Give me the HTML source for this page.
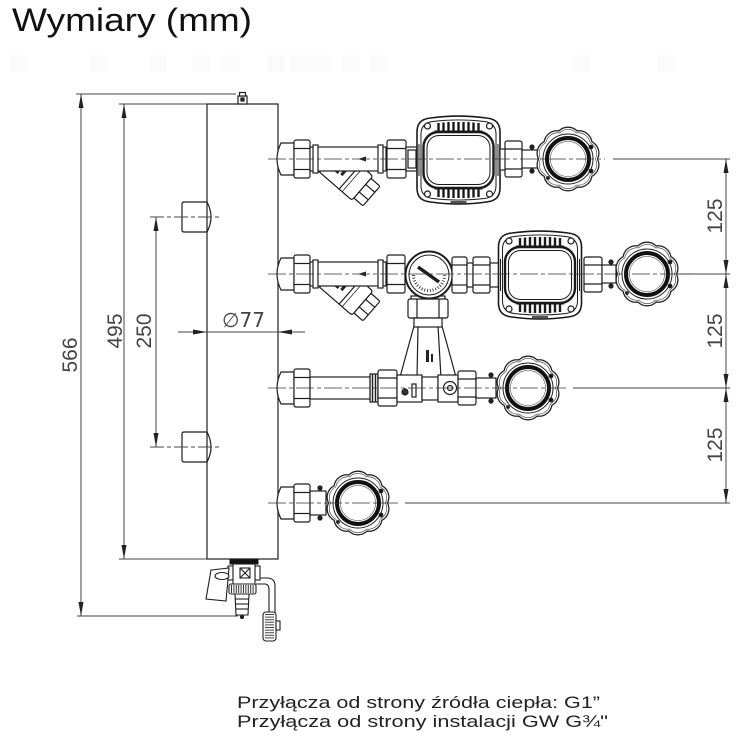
<!DOCTYPE html>
<html><head><meta charset="utf-8">
<style>html,body{margin:0;padding:0;background:#fff;}svg{display:block;}</style>
</head>
<body>
<svg xmlns="http://www.w3.org/2000/svg" xmlns:xlink="http://www.w3.org/1999/xlink" width="750" height="749" viewBox="0 0 750 749">
<defs>
  <g id="knob">
    <path d="M29.5,0 A13,13 0 0 1 23.87,17.34 A13,13 0 0 1 9.12,28.06 A13,13 0 0 1 -9.12,28.06 A13,13 0 0 1 -23.87,17.34 A13,13 0 0 1 -29.5,0 A13,13 0 0 1 -23.87,-17.34 A13,13 0 0 1 -9.12,-28.06 A13,13 0 0 1 9.12,-28.06 A13,13 0 0 1 23.87,-17.34 A13,13 0 0 1 29.5,0 Z" fill="#fff" stroke="#222" stroke-width="1.3"/>
    <path transform="scale(0.93)" d="M29.5,0 A13,13 0 0 1 23.87,17.34 A13,13 0 0 1 9.12,28.06 A13,13 0 0 1 -9.12,28.06 A13,13 0 0 1 -23.87,17.34 A13,13 0 0 1 -29.5,0 A13,13 0 0 1 -23.87,-17.34 A13,13 0 0 1 -9.12,-28.06 A13,13 0 0 1 9.12,-28.06 A13,13 0 0 1 23.87,-17.34 A13,13 0 0 1 29.5,0 Z" fill="none" stroke="#444" stroke-width="0.7"/>
    <circle r="25" fill="none" stroke="#222" stroke-width="1"/>
    <circle r="21" fill="#fff" stroke="#111" stroke-width="4"/>
    <circle r="17.6" fill="none" stroke="#555" stroke-width="0.6"/>
    <circle cx="23" cy="-12" r="1.8" fill="#111"/>
    <circle cx="23" cy="12" r="1.8" fill="#111"/>
    <circle cx="-20" cy="19" r="1.3" fill="#333"/>
  </g>
  <g id="pump" stroke="#1a1a1a" fill="#fff">
    <path d="M-28,-42 C-10,-44.5 10,-44.5 28,-42 C38,-41 42,-36 41.5,-26 L41.5,26 C42,36 38,41 28,42 C10,44.5 -10,44.5 -28,42 C-38,41 -42,36 -41.5,26 L-41.5,-26 C-42,-36 -38,-41 -28,-42 Z" stroke-width="1.6"/>
    <path d="M-26,-38.5 C-10,-40.5 10,-40.5 26,-38.5 C34,-37.5 38,-33 37.5,-24 L37.5,24 C38,33 34,37.5 26,38.5 C10,40.5 -10,40.5 -26,38.5 C-34,37.5 -38,33 -37.5,24 L-37.5,-24 C-38,-33 -34,-37.5 -26,-38.5 Z" stroke-width="1"/>
    <path d="M-20,-37 V-29 M-15,-37.5 V-29 M-10,-38 V-29 M-5,-38 V-29 M0,-38 V-29 M5,-38 V-29 M10,-38 V-29 M15,-37.5 V-29 M20,-37 V-29" stroke-width="2.4" fill="none"/>
    <path d="M-20,37 V29 M-15,37.5 V29 M-10,38 V29 M-5,38 V29 M0,38 V29 M5,38 V29 M10,38 V29 M15,37.5 V29 M20,37 V29" stroke-width="2.4" fill="none"/>
    <line x1="-24" y1="-29" x2="24" y2="-29" stroke-width="1"/>
    <line x1="-24" y1="29" x2="24" y2="29" stroke-width="1"/>
    <rect x="-35" y="-28" width="70" height="56" rx="15" stroke-width="2.4"/>
    <rect x="-31.5" y="-24.5" width="63" height="49" rx="12" stroke-width="1"/>
    <circle cx="-31" cy="-34" r="3" stroke-width="1.2"/>
    <circle cx="31" cy="-34" r="3" stroke-width="1.2"/>
    <circle cx="-31" cy="34" r="3" stroke-width="1.2"/>
    <circle cx="31" cy="34" r="3" stroke-width="1.2"/>
    <line x1="-39.5" y1="-16" x2="-39.5" y2="16" stroke-width="1"/>
    <line x1="39.5" y1="-16" x2="39.5" y2="16" stroke-width="1"/>
    <line x1="-8" y1="42" x2="8" y2="42" stroke-width="1.5"/>
  </g>
  <g id="strainer" stroke="#1a1a1a" fill="#fff" stroke-width="1.2">
    <path d="M0,-16 L40,-16 Q43,-16 43,-13 L43,13 Q43,16 40,16 L0,16 Z"/>
    <line x1="26" y1="-16" x2="26" y2="16"/>
    <line x1="30" y1="-16" x2="30" y2="16" stroke-width="0.7"/>
    <rect x="43" y="-13" width="12" height="26" rx="1.5"/>
    <line x1="43" y1="-5" x2="55" y2="-5"/>
    <line x1="43" y1="5" x2="55" y2="5"/>
    <g fill="#222" stroke="none">
      <rect x="8" y="-7" width="7" height="2.5"/>
      <rect x="8" y="-2" width="7" height="2.5"/>
      <rect x="8" y="3" width="7" height="2.5"/>
      <rect x="17" y="-4" width="3" height="8"/>
    </g>
  </g>
</defs>

<!-- faint artifacts -->
<g fill="#fbfbfb">
  <rect x="10" y="55" width="17" height="17"/>
  <rect x="90" y="55" width="17" height="17"/>
  <rect x="150" y="55" width="17" height="17"/>
  <rect x="192" y="55" width="18" height="17"/>
  <rect x="220" y="55" width="20" height="17"/>
  <rect x="267" y="55" width="18" height="17"/>
  <rect x="290" y="55" width="42" height="17"/>
  <rect x="342" y="55" width="18" height="17"/>
  <rect x="370" y="55" width="17" height="17"/>
  <rect x="572" y="55" width="18" height="17"/>
  <rect x="657" y="55" width="18" height="17"/>
</g>

<!-- Title -->
<text x="12" y="31" font-family="Liberation Sans, sans-serif" font-size="32" fill="#111" textLength="240" lengthAdjust="spacingAndGlyphs">Wymiary (mm)</text>

<!-- Tank body -->
<g stroke="#1e1e1e" stroke-width="1.2" fill="#fff">
  <rect x="207" y="104" width="71" height="455"/>
  <rect x="238" y="96" width="9" height="8"/>
  <rect x="239.5" y="92.5" width="6" height="3.5"/>
  <rect x="241" y="98" width="3" height="3" fill="#222"/>
  <path d="M207,202 L184,202 Q182,202 182,204 L182,230 Q182,232 184,232 L207,232 Q215,217 207,202 Z"/>
  <path d="M207,432 L184,432 Q182,432 182,434 L182,460 Q182,462 184,462 L207,462 Q215,447 207,432 Z"/>
  <line x1="207" y1="202" x2="207" y2="232"/>
  <line x1="207" y1="432" x2="207" y2="462"/>
</g>

<!-- Dimension lines -->
<g stroke="#444" stroke-width="1" fill="none">
  <line x1="76" y1="94" x2="236" y2="94"/>
  <line x1="77" y1="616" x2="238" y2="616"/>
  <line x1="81" y1="94" x2="81" y2="616"/>
  <line x1="119" y1="104" x2="207" y2="104"/>
  <line x1="119" y1="559" x2="207" y2="559"/>
  <line x1="124" y1="104" x2="124" y2="559"/>
  <line x1="156" y1="217" x2="156" y2="447"/>
  <line x1="150" y1="217" x2="222" y2="217" stroke-dasharray="14 3 4 3"/>
  <line x1="150" y1="447" x2="222" y2="447" stroke-dasharray="14 3 4 3"/>
  <line x1="178" y1="332" x2="305" y2="332"/>
  <line x1="726" y1="159" x2="726" y2="503"/>
  <line x1="613" y1="159" x2="730" y2="159"/>
  <line x1="612" y1="274" x2="730" y2="274"/>
  <line x1="573" y1="388" x2="730" y2="388"/>
  <line x1="405" y1="503" x2="730" y2="503"/>
</g>
<g fill="#222">
  <polygon points="81,94 78.5,108 83.5,108"/>
  <polygon points="81,616 78.5,602 83.5,602"/>
  <polygon points="124,104 121.5,118 126.5,118"/>
  <polygon points="124,559 121.5,545 126.5,545"/>
  <polygon points="156,217 153.5,231 158.5,231"/>
  <polygon points="156,447 153.5,433 158.5,433"/>
  <polygon points="207,332 193,329.5 193,334.5"/>
  <polygon points="278,332 292,329.5 292,334.5"/>
  <polygon points="726,159 723.5,173 728.5,173"/>
  <polygon points="726,274 723.5,260 728.5,260"/>
  <polygon points="726,274 723.5,288 728.5,288"/>
  <polygon points="726,388 723.5,374 728.5,374"/>
  <polygon points="726,388 723.5,402 728.5,402"/>
  <polygon points="726,503 723.5,489 728.5,489"/>
</g>
<g font-family="Liberation Sans, sans-serif" font-size="21" fill="#444" text-anchor="middle">
  <text transform="translate(77,355) rotate(-90)">566</text>
  <text transform="translate(122,331) rotate(-90)">495</text>
  <text transform="translate(151,331) rotate(-90)">250</text>
  <text transform="translate(722,216) rotate(-90)">125</text>
  <text transform="translate(722,331) rotate(-90)">125</text>
  <text transform="translate(722,445) rotate(-90)">125</text>
</g>
<text x="222" y="327" font-family="DejaVu Sans, Liberation Sans, sans-serif" font-size="20" fill="#444" textLength="43" lengthAdjust="spacingAndGlyphs">∅77</text>

<!-- Row 1 -->
<g stroke="#1e1e1e" stroke-width="1.2" fill="#fff">
  <use xlink:href="#strainer" transform="translate(330,160) rotate(41)"/>
  <path d="M294,143 L281,143 Q273,159 281,175 L294,175 Z"/>
  <rect x="294" y="140" width="16" height="38" rx="2"/>
  <line x1="294" y1="148.5" x2="310" y2="148.5"/><line x1="294" y1="169.5" x2="310" y2="169.5"/>
  <rect x="310" y="147" width="76" height="24"/>
  <rect x="313" y="145" width="5" height="28"/>
  <rect x="378" y="145" width="5" height="28"/>
  <polygon points="358,159 366,156.5 366,161.5" fill="#222" stroke="none"/>
  <rect x="387" y="140" width="19" height="38" rx="2"/>
  <line x1="387" y1="148.5" x2="406" y2="148.5"/><line x1="387" y1="169.5" x2="406" y2="169.5"/>
  <rect x="406" y="147" width="12" height="24"/>
  <rect x="408" y="150" width="8" height="18"/>
  <use xlink:href="#pump" transform="translate(458.5,160)"/>
  <rect x="500" y="149" width="6" height="21"/>
  <rect x="505" y="141" width="17" height="36" rx="2"/>
  <line x1="505" y1="149" x2="522" y2="149"/><line x1="505" y1="169" x2="522" y2="169"/>
  <rect x="522" y="150" width="16" height="18"/>
  <use xlink:href="#knob" transform="translate(568,159)"/>
  <circle cx="532" cy="147" r="2" fill="#222"/>
  <circle cx="532" cy="171" r="2" fill="#222"/>
</g>

<!-- Row 2 -->
<g stroke="#1e1e1e" stroke-width="1.2" fill="#fff">
  <use xlink:href="#strainer" transform="translate(330,275) rotate(41)"/>
  <path d="M294,258 L281,258 Q273,274 281,290 L294,290 Z"/>
  <rect x="294" y="255" width="16" height="38" rx="2"/>
  <line x1="294" y1="263.5" x2="310" y2="263.5"/><line x1="294" y1="284.5" x2="310" y2="284.5"/>
  <rect x="310" y="262" width="76" height="24"/>
  <rect x="313" y="260" width="5" height="28"/>
  <rect x="378" y="260" width="5" height="28"/>
  <polygon points="358,274 366,271.5 366,276.5" fill="#222" stroke="none"/>
  <rect x="387" y="255" width="18" height="38" rx="2"/>
  <line x1="387" y1="263.5" x2="405" y2="263.5"/><line x1="387" y1="284.5" x2="405" y2="284.5"/>
  <polygon points="418,326 438,326 441,378 417,378"/>
  <line x1="414" y1="326" x2="400" y2="377"/>
  <line x1="442" y1="326" x2="456" y2="377"/>
  <polyline points="404,378 428,396 452,378" fill="none"/>
  <rect x="426" y="350" width="3" height="12" fill="#222" stroke="none"/>
  <rect x="431" y="354" width="2" height="8" fill="#222" stroke="none"/>
  <rect x="411" y="296" width="34" height="4"/>
  <rect x="408" y="299" width="40" height="19" rx="2"/>
  <line x1="417" y1="299" x2="417" y2="318"/><line x1="439" y1="299" x2="439" y2="318"/>
  <rect x="414" y="318" width="28" height="9"/>
  <circle cx="429" cy="275" r="23.5" stroke-width="2"/>
  <circle cx="429" cy="275" r="20" stroke-width="1"/>
  <path d="M413.5,275 A15.5,15.5 0 0 0 444.5,275" fill="none" stroke-width="3" stroke-dasharray="0.8 2"/>
  <line x1="418" y1="267" x2="439" y2="282" stroke-width="3.5"/>
  <rect x="452" y="257" width="15" height="36" rx="2"/>
  <line x1="452" y1="265" x2="467" y2="265"/><line x1="452" y1="285" x2="467" y2="285"/>
  <rect x="467" y="263" width="6" height="24"/>
  <rect x="473" y="257" width="17" height="36" rx="2"/>
  <line x1="473" y1="265" x2="490" y2="265"/><line x1="473" y1="285" x2="490" y2="285"/>
  <rect x="490" y="263" width="11" height="24"/>
  <use xlink:href="#pump" transform="translate(540,275)"/>
  <rect x="584" y="257" width="18" height="35" rx="2"/>
  <line x1="584" y1="265" x2="602" y2="265"/><line x1="584" y1="284" x2="602" y2="284"/>
  <rect x="602" y="265" width="14" height="18"/>
  <use xlink:href="#knob" transform="translate(647,274)"/>
  <circle cx="611" cy="262" r="2" fill="#222"/>
  <circle cx="611" cy="286" r="2" fill="#222"/>
</g>

<!-- Row 3 -->
<g stroke="#1e1e1e" stroke-width="1.2" fill="#fff">
  <path d="M294,372 L281,372 Q273,388 281,404 L294,404 Z"/>
  <rect x="294" y="369" width="16" height="38" rx="2"/>
  <line x1="294" y1="377.5" x2="310" y2="377.5"/><line x1="294" y1="398.5" x2="310" y2="398.5"/>
  <rect x="310" y="377" width="60" height="22"/>
  <rect x="370" y="374" width="8" height="28" fill="#ddd"/>
  <line x1="372.5" y1="374" x2="372.5" y2="402"/><line x1="375.5" y1="374" x2="375.5" y2="402"/>
  <rect x="378" y="370" width="19" height="36" rx="2"/>
  <line x1="378" y1="378" x2="397" y2="378"/><line x1="378" y1="398" x2="397" y2="398"/>
  <rect x="397" y="375" width="25" height="27"/>
  <circle cx="405" cy="392" r="3" fill="#333"/>
  <rect x="412" y="384" width="4" height="13"/>
  <rect x="422" y="377" width="16" height="23"/>
  <rect x="438" y="375" width="20" height="27"/>
  <circle cx="450" cy="388" r="6.5"/>
  <circle cx="450" cy="388" r="2.5"/>
  <rect x="458" y="371" width="18" height="34" rx="2"/>
  <line x1="458" y1="379" x2="476" y2="379"/><line x1="458" y1="397" x2="476" y2="397"/>
  <rect x="476" y="378" width="20" height="20"/>
  <use xlink:href="#knob" transform="translate(528,388)"/>
  <circle cx="491" cy="375" r="2" fill="#222"/>
  <circle cx="491" cy="401" r="2" fill="#222"/>
</g>

<!-- Row 4 -->
<g stroke="#1e1e1e" stroke-width="1.2" fill="#fff">
  <path d="M294,487 L281,487 Q273,503 281,519 L294,519 Z"/>
  <rect x="294" y="484" width="16" height="38" rx="2"/>
  <line x1="294" y1="492.5" x2="310" y2="492.5"/><line x1="294" y1="513.5" x2="310" y2="513.5"/>
  <rect x="310" y="491" width="16" height="24"/>
  <use xlink:href="#knob" transform="translate(358,503)"/>
  <circle cx="320" cy="488" r="2" fill="#222"/>
  <circle cx="320" cy="518" r="2" fill="#222"/>
</g>

<!-- Centerlines -->
<g stroke="#333" stroke-width="0.8" stroke-dasharray="18 3 4 3" fill="none">
  <line x1="268" y1="159" x2="605" y2="159"/>
  <line x1="268" y1="274" x2="690" y2="274"/>
  <line x1="268" y1="388" x2="566" y2="388"/>
  <line x1="268" y1="503" x2="398" y2="503"/>
</g>

<!-- Drain -->
<g stroke="#1e1e1e" stroke-width="1.1" fill="#fff">
  <path d="M256,578 L267,578 Q275,578 275,586 L275,614" fill="none"/>
  <path d="M256,584 L265,584 Q269,584 269,590 L269,614" fill="none"/>
  <rect x="263" y="612" width="13" height="29" rx="3"/>
  <line x1="269.5" y1="614" x2="269.5" y2="639" stroke="#444" stroke-width="9" stroke-dasharray="1 1.6"/>
  <rect x="276" y="621" width="4" height="9"/>
  <rect x="230" y="559" width="28" height="5" fill="#111"/>
  <rect x="228" y="566" width="5" height="14"/>
  <rect x="255" y="566" width="5" height="14"/>
  <rect x="233" y="564" width="22" height="21"/>
  <rect x="240" y="568" width="10" height="10"/>
  <line x1="240" y1="568" x2="250" y2="578"/><line x1="250" y1="568" x2="240" y2="578"/>
  <polygon points="211,570 229,568 226,601 206,599"/>
  <ellipse cx="222" cy="576" rx="7" ry="3.5"/>
  <rect x="229" y="584" width="27" height="10" rx="2"/>
  <line x1="231" y1="589" x2="254" y2="589" stroke="#333" stroke-width="8" stroke-dasharray="1 1.4"/>
  <polygon points="235,594 249,594 248,615 236,615"/>
  <line x1="235" y1="599" x2="249" y2="599"/>
  <line x1="235" y1="604" x2="249" y2="604"/>
  <line x1="236" y1="609" x2="248" y2="609"/>
  <circle cx="242" cy="617" r="1.6" fill="#222"/>
</g>

<!-- Bottom text -->
<g font-family="Liberation Sans, sans-serif" font-size="17" fill="#222">
  <text x="237" y="708" textLength="363" lengthAdjust="spacingAndGlyphs">Przyłącza od strony źródła ciepła: G1”</text>
  <text x="237" y="727" textLength="371" lengthAdjust="spacingAndGlyphs">Przyłącza od strony instalacji GW G¾"</text>
</g>
</svg>
</body></html>
